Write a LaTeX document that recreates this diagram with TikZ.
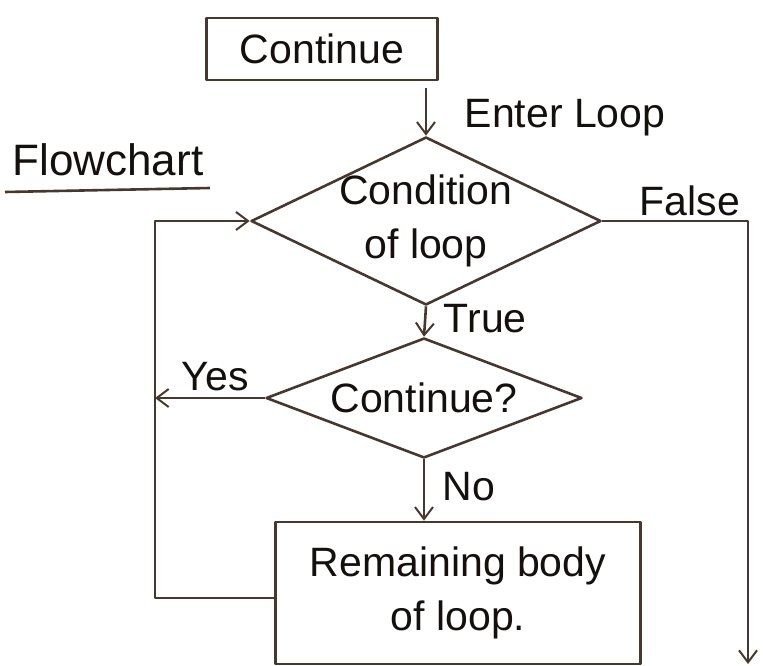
\documentclass[tikz,border=0pt]{standalone}
\usepackage{fontspec}
\setmainfont{Liberation Sans}
\usetikzlibrary{shapes.geometric,arrows.meta}
\definecolor{ink}{RGB}{70,56,46}
\definecolor{txt}{RGB}{20,16,14}
\begin{document}
\begin{tikzpicture}[x=1pt,y=-1pt,
  every node/.style={text=txt,font=\fontsize{41}{54}\selectfont},
  line/.style={draw=ink,line width=2.6pt,line join=round},
  flow/.style={line,-{Straight Barb[length=12pt,width=18pt,line width=2pt]}},
  dia/.style={line,diamond,inner sep=0pt},
  boxnode/.style={line,rectangle,inner sep=0pt}]
\useasboundingbox (0,0) rectangle (763,666);

% heading box and caption
\node[boxnode,minimum width=231pt,minimum height=62pt] (title) at (322,49) {Continue};
\node[font=\fontsize{44}{54}\selectfont] (caption) at (108,160) {Flowchart};
\coordinate (ulA) at (5,192);
\coordinate (ulB) at (210,188);
\draw[line] (ulA) -- (ulB);

% entry into the loop
\coordinate (entry) at (426,88);
\node (enterlbl) at (565,118) {Enter Loop};

% loop condition
\node[dia,minimum width=350pt,minimum height=168pt] (cond) at (426,221) {};
\node[align=center] (condtxt) at (cond) {Condition\\of loop};

% continue test
\node[dia,minimum width=316pt,minimum height=120pt] (cont) at (424,398) {};
\node (conttxt) at (cont) {Continue?};

% body of the loop
\node[boxnode,minimum width=365pt,minimum height=142pt,align=center] (body) at (458,593)
  {Remaining body\\of loop.};

% side rails
\coordinate (railTop) at (155,221);
\coordinate (railBot) at (155,598);
\coordinate (yesEnd) at (155,398);
\coordinate (falseCorner) at (748,221);
\coordinate (exitEnd) at (748,664);

% connectors
\draw[flow] (entry) -- (cond.north);
\draw[flow] (cond.south) -- node[right=14pt,pos=0.4] (truelbl) {True} (cont.north);
\draw[flow] (cont.south) -- node[right=14pt,pos=0.45] (nolbl) {No} (body.north -| cont.south);
\draw[flow] (cont.west) -- node[above=2pt,pos=0.45] (yeslbl) {Yes} (yesEnd);
\draw[flow] (body.west |- railBot) -- (railBot) -- (railTop) -- (cond.west);
\draw[flow] (cond.east) -- node[above=0pt,pos=0.6] (falselbl) {False} (falseCorner) -- (exitEnd);
\end{tikzpicture}
\end{document}
